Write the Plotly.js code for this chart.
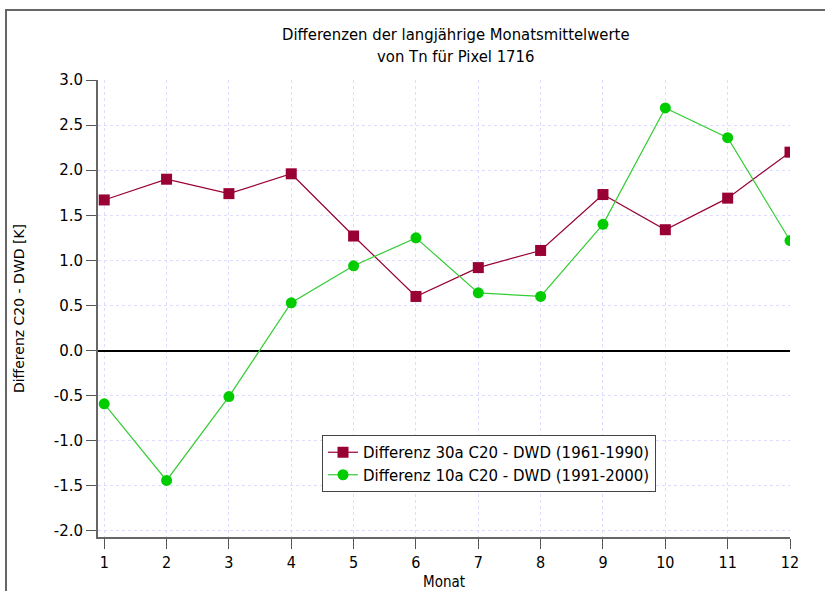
<!DOCTYPE html>
<html>
<head>
<meta charset="utf-8">
<script src="https://cdn.plot.ly/plotly-3.0.1.min.js"></script>
<style>html,body{margin:0;padding:0;background:#fff;}#chart{width:825px;height:591px;}</style>
</head>
<body>
<div id="chart"></div>
<script>
const months = [1,2,3,4,5,6,7,8,9,10,11,12];
const diff30a = [1.67,1.90,1.74,1.96,1.27,0.60,0.92,1.11,1.73,1.34,1.69,2.20];
const diff10a = [-0.59,-1.44,-0.51,0.53,0.94,1.25,0.64,0.60,1.40,2.69,2.36,1.22];
const name30a = 'Differenz 30a C20 - DWD (1961-1990)';
const name10a = 'Differenz 10a C20 - DWD (1991-2000)';
const yTicks = [-2.0,-1.5,-1.0,-0.5,0.0,0.5,1.0,1.5,2.0,2.5,3.0];

const sans = 'DejaVu Sans, Lato, sans-serif';
const narrow = 'DejaVu Sans Condensed, Liberation Sans Narrow, Liberation Sans, sans-serif';

const traces = [
  {x: months, y: diff30a, name: name30a, mode: 'lines+markers', type: 'scatter',
   line: {color: '#990033', width: 1.2}, marker: {symbol: 'square', size: 11, color: '#990033'}},
  {x: months, y: diff10a, name: name10a, mode: 'lines+markers', type: 'scatter',
   line: {color: '#33cc33', width: 1.2}, marker: {symbol: 'circle', size: 11, color: '#00cc00'}}
];

const layout = {
  width: 825, height: 591,
  margin: {l: 98, r: 35, t: 80, b: 54},
  paper_bgcolor: '#fff', plot_bgcolor: '#fff',
  showlegend: true,
  title: {text: 'Differenzen der langjährige Monatsmittelwerte<br>von Tn für Pixel 1716',
          font: {family: narrow, size: 16.5, color: '#000'},
          x: 0.517, xref: 'paper', xanchor: 'center', y: 0.932, yref: 'container', yanchor: 'top'},
  xaxis: {range: [0.9, 12], tickvals: months, ticktext: months.map(String),
          showline: true, linecolor: '#666', linewidth: 2, mirror: false,
          ticks: 'outside', ticklen: 10, tickcolor: '#555', tickwidth: 1,
          showgrid: true, gridcolor: '#dcdcff', griddash: 'dot', gridwidth: 1,
          zeroline: false, tickfont: {family: narrow, size: 16, color: '#000'},
          title: {text: 'Monat', font: {family: narrow, size: 15, color: '#000'}, standoff: 12}},
  yaxis: {range: [-2.067, 3.0], tickvals: yTicks, ticktext: yTicks.map(v => v.toFixed(1)),
          showline: true, linecolor: '#666', linewidth: 2,
          ticks: 'outside', ticklen: 10, tickcolor: '#555', tickwidth: 1,
          showgrid: true, gridcolor: '#dcdcff', griddash: 'dot', gridwidth: 1,
          zeroline: true, zerolinecolor: '#000', zerolinewidth: 2,
          tickfont: {family: sans, size: 15, color: '#000'},
          title: {text: 'Differenz C20 - DWD [K]', font: {family: sans, size: 14, color: '#000'}, standoff: 26}},
  legend: {x: (322-98)/692, y: (537-435)/457, xanchor: 'left', yanchor: 'top',
           bgcolor: '#fff', bordercolor: '#444', borderwidth: 1,
           font: {family: sans, size: 15, color: '#000'}, tracegroupgap: 0, itemwidth: 30},
  shapes: [
    {type: 'rect', xref: 'paper', yref: 'paper', x0: (6-98)/692, x1: 1.2, y0: -0.3, y1: (537-10)/457,
     line: {color: '#666', width: 2}, fillcolor: 'rgba(0,0,0,0)', layer: 'below'}
  ]
};

Plotly.newPlot('chart', traces, layout, {displayModeBar: false, staticPlot: true});
</script>
</body>
</html>
